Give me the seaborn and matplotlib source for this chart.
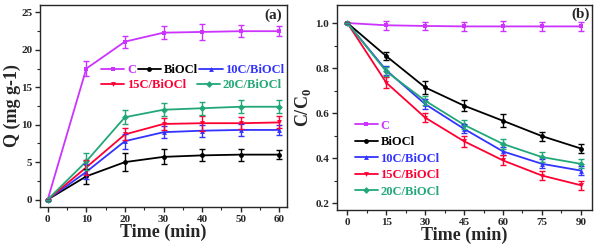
import numpy as np
import pandas as pd
import matplotlib
matplotlib.use("Agg")
import matplotlib.pyplot as plt
from matplotlib.ticker import MultipleLocator
import seaborn as sns

sns.set_style("ticks")
plt.rcParams['font.family'] = ['Liberation Serif', 'DejaVu Serif']
plt.rcParams['font.weight'] = 'bold'
plt.rcParams['axes.labelweight'] = 'bold'
plt.rcParams['mathtext.fontset'] = 'custom'
plt.rcParams['mathtext.rm'] = 'Liberation Serif:bold'

# Data
series = ['C', 'BiOCl', '10C/BiOCl', '15C/BiOCl', '20C/BiOCl']
colors = ['#cc33ff', '#000000', '#3333ff', '#ff0033', '#22a878']
markers = ['s', 'o', '^', 'v', 'D']

time_a = [0, 10, 20, 30, 40, 50, 60]
q_c = [0, 17.5, 21.1, 22.3, 22.4, 22.5, 22.5]
q_biocl = [0, 3.1, 5.0, 5.7, 5.9, 6.0, 6.0]
q_10c = [0, 3.7, 7.8, 9.0, 9.2, 9.3, 9.3]
q_15c = [0, 4.3, 8.7, 10.1, 10.2, 10.2, 10.3]
q_20c = [0, 5.1, 11.0, 12.0, 12.2, 12.4, 12.4]
qerr_c = [0, 1.0, 0.8, 0.9, 1.1, 0.8, 0.7]
qerr_biocl = [0, 1.0, 1.2, 1.0, 0.8, 0.8, 0.6]
qerr_10c = [0, 1.0, 1.0, 0.8, 0.8, 0.8, 0.7]
qerr_15c = [0, 1.0, 0.8, 0.8, 1.0, 0.8, 0.8]
qerr_20c = [0, 1.1, 0.9, 0.9, 0.9, 0.9, 0.9]

time_b = [0, 15, 30, 45, 60, 75, 90]
cc_c = [1.0, 0.990, 0.987, 0.985, 0.985, 0.985, 0.985]
cc_biocl = [1.0, 0.853, 0.714, 0.633, 0.566, 0.498, 0.443]
cc_10c = [1.0, 0.790, 0.640, 0.530, 0.430, 0.375, 0.345]
cc_15c = [1.0, 0.735, 0.580, 0.475, 0.390, 0.323, 0.280]
cc_20c = [1.0, 0.785, 0.655, 0.548, 0.463, 0.405, 0.375]
cerr_c = [0, 0.02, 0.018, 0.02, 0.022, 0.02, 0.02]
cerr_biocl = [0, 0.018, 0.03, 0.025, 0.028, 0.02, 0.018]
cerr_10c = [0, 0.02, 0.022, 0.02, 0.018, 0.02, 0.02]
cerr_15c = [0, 0.025, 0.02, 0.025, 0.022, 0.022, 0.02]
cerr_20c = [0, 0.02, 0.02, 0.02, 0.022, 0.022, 0.02]

qa = [q_c, q_biocl, q_10c, q_15c, q_20c]
qa_err = [qerr_c, qerr_biocl, qerr_10c, qerr_15c, qerr_20c]
cb = [cc_c, cc_biocl, cc_10c, cc_15c, cc_20c]
cb_err = [cerr_c, cerr_biocl, cerr_10c, cerr_15c, cerr_20c]

df_a = pd.DataFrame([(t, v, e, s) for s, vals, errs in zip(series, qa, qa_err)
                     for t, v, e in zip(time_a, vals, errs)],
                    columns=['time', 'val', 'err', 'sample'])
df_b = pd.DataFrame([(t, v, e, s) for s, vals, errs in zip(series, cb, cb_err)
                     for t, v, e in zip(time_b, vals, errs)],
                    columns=['time', 'val', 'err', 'sample'])

fig = plt.figure(figsize=(5.94, 2.44), dpi=100)
ax1 = fig.add_axes([40/594, 37/244, 247/594, 202/244])
ax2 = fig.add_axes([337/594, 34/244, 255/594, 205/244])

pal = dict(zip(series, colors))
mk = dict(zip(series, markers))


def draw(ax, df):
    sns.lineplot(data=df, x='time', y='val', hue='sample', style='sample',
                 palette=pal, markers=mk, dashes=False, markersize=3.5,
                 markeredgewidth=0, linewidth=1.3, ax=ax)
    for s in series:
        d = df[df['sample'] == s]
        ax.errorbar(d['time'], d['val'], yerr=d['err'], fmt='none',
                    ecolor=pal[s], elinewidth=1.0, capsize=2.5, capthick=1.0)


draw(ax1, df_a)
draw(ax2, df_b)

ax1.set_xlim(-2, 62)
ax1.set_ylim(-1, 26)
ax1.xaxis.set_major_locator(MultipleLocator(10))
ax1.xaxis.set_minor_locator(MultipleLocator(5))
ax1.yaxis.set_major_locator(MultipleLocator(5))
ax1.yaxis.set_minor_locator(MultipleLocator(2.5))
ax1.set_xlabel('Time (min)', fontsize=13, labelpad=0)
ax1.set_ylabel('Q (mg g-1)', fontsize=13, labelpad=0)
ax1.text(0.98, 0.985, '(a)', transform=ax1.transAxes, ha='right', va='top',
         fontsize=11, fontweight='bold')

ax2.set_xlim(-4, 94.3)
ax2.set_ylim(0.17, 1.08)
ax2.xaxis.set_major_locator(MultipleLocator(15))
ax2.xaxis.set_minor_locator(MultipleLocator(7.5))
ax2.yaxis.set_major_locator(MultipleLocator(0.2))
ax2.yaxis.set_minor_locator(MultipleLocator(0.1))
ax2.set_xlabel('Time (min)', fontsize=13, labelpad=0)
ax2.set_ylabel('C/C$_0$', fontsize=13, labelpad=2)
ax2.text(0.99, 0.99, '(b)', transform=ax2.transAxes, ha='right', va='top',
         fontsize=11, fontweight='bold')

for ax in (ax1, ax2):
    for sp in ax.spines.values():
        sp.set_visible(True)
        sp.set_linewidth(1.0)
    ax.tick_params(which='major', direction='out', length=3.5, width=1,
                   labelsize=8, pad=2, top=False, right=False)
    ax.tick_params(which='minor', direction='out', length=2, width=0.8,
                   top=False, right=False)
    for lab in ax.get_xticklabels() + ax.get_yticklabels():
        lab.set_fontweight('bold')

leg_kw = dict(frameon=False, fontsize=9, handlelength=1.85,
              handletextpad=0.2, borderpad=0.0)

# legend (a): two rows drawn as two separate legends
h, l = ax1.get_legend_handles_labels()
leg1a = ax1.legend(h[:3], l[:3], ncol=3, loc='center left',
                   bbox_to_anchor=(0.223, 0.678), columnspacing=0.15, **leg_kw)
ax1.add_artist(leg1a)
leg1b = ax1.legend(h[3:], l[3:], ncol=2, loc='center left',
                   bbox_to_anchor=(0.223, 0.604), columnspacing=0.9, **leg_kw)
leg2 = ax2.legend(ncol=1, loc='lower left', bbox_to_anchor=(0.045, 0.03),
                  labelspacing=0.36, **leg_kw)
for leg, cols in ((leg1a, colors[:3]), (leg1b, colors[3:]), (leg2, colors)):
    for txt, c in zip(leg.get_texts(), cols):
        txt.set_color(c)
        txt.set_fontweight('bold')

fig.savefig('out.png', dpi=100)
